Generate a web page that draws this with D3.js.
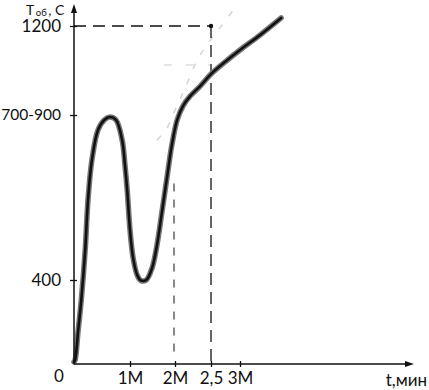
<!DOCTYPE html>
<html>
<head>
<meta charset="utf-8">
<script src="https://cdn.jsdelivr.net/npm/d3@7"></script>
<style>
  body { margin: 0; background: #fff; }
  text { font-family: Lato, "Open Sans", sans-serif; fill: #111; }
</style>
</head>
<body>
<div id="chart-area"></div>
<script>
// temperature curve, t in minutes, T in degrees
const timeVals = [0, 0.02, 0.07, 0.13, 0.2, 0.25, 0.32, 0.43, 0.54, 0.64, 0.75, 0.86, 0.91, 0.95, 1.0,
  1.07, 1.16, 1.24, 1.36, 1.49, 1.6, 1.71, 1.82, 1.93, 2.03, 2.11, 2.21, 2.35, 2.5, 2.74, 3.0, 3.35, 3.71];
const tempVals = [10, 19, 148, 305, 473, 594, 691, 764, 788, 795, 788, 739, 679, 618, 521,
  453, 412, 398, 400, 429, 485, 565, 647, 727, 788, 840, 885, 930, 984, 1038, 1092, 1160, 1236];

// faint pencil guide curve
const guideTime = [1.6, 1.82, 2.0, 2.14, 2.31, 2.49, 2.69, 2.91];
const guideTemp = [739, 768, 822, 921, 1047, 1137, 1204, 1281];

const xTicks = [1, 2, 2.5, 3];
const xTickLabels = ["1M", "2M", "2,5", "3M"];
const yTicks = [400, 800, 1200];
const yTickLabels = ["400", "700-900", "1200"];

const markTime = 2.5;
const markTemp = 1200;

const chartWidth = 429;
const chartHeight = 390;
const originX = 74;
const originY = 364;

const svg = d3.select("#chart-area").append("svg")
  .attr("width", chartWidth)
  .attr("height", chartHeight);

// hand drawn axes are not evenly spaced, so piecewise scales
const x = d3.scaleLinear()
  .domain([0, 1, 2, 2.5, 3])
  .range([originX, 130, 175, 211, 240]);

const y = d3.scaleLinear()
  .domain([0, 400, 800, 1200])
  .range([originY, 280, 115, 26]);

// faint guides
const guideLine = d3.line()
  .x((d, i) => x(guideTime[i]))
  .y(d => y(d))
  .curve(d3.curveCatmullRom.alpha(0.5));

svg.append("path")
  .datum(guideTemp)
  .attr("d", guideLine)
  .attr("fill", "none")
  .attr("stroke", "#d4d4d4")
  .attr("stroke-width", 1.5)
  .attr("stroke-dasharray", "6,10");

svg.append("line")
  .attr("x1", x(1.75)).attr("x2", x(2.48))
  .attr("y1", y(1025)).attr("y2", y(1025))
  .attr("stroke", "#ddd")
  .attr("stroke-width", 1.5)
  .attr("stroke-dasharray", "8,14");

svg.append("line")
  .attr("x1", x(2) - 1).attr("x2", x(2) - 1)
  .attr("y1", y(60)).attr("y2", y(650))
  .attr("stroke", "#888")
  .attr("stroke-width", 2)
  .attr("stroke-dasharray", "8,8");

// dashed marker for 2,5 / 1200
svg.append("line")
  .attr("x1", originX).attr("x2", x(markTime))
  .attr("y1", y(markTemp)).attr("y2", y(markTemp))
  .attr("stroke", "#111")
  .attr("stroke-width", 1.3)
  .attr("stroke-dasharray", "12,7");

svg.append("line")
  .attr("x1", x(markTime)).attr("x2", x(markTime))
  .attr("y1", y(markTemp)).attr("y2", originY)
  .attr("stroke", "#111")
  .attr("stroke-width", 1.3)
  .attr("stroke-dasharray", "12,7");

svg.append("circle")
  .attr("cx", x(markTime))
  .attr("cy", y(markTemp))
  .attr("r", 2.2)
  .attr("fill", "#111");

// main curve, pencil look: grey halo + dark core
const line = d3.line()
  .x((d, i) => x(timeVals[i]))
  .y(d => y(d))
  .curve(d3.curveCatmullRom.alpha(0.5));

svg.append("path")
  .datum(tempVals)
  .attr("d", line)
  .attr("fill", "none")
  .attr("stroke", "#777")
  .attr("stroke-width", 5.5)
  .attr("stroke-linecap", "round");

svg.append("path")
  .datum(tempVals)
  .attr("d", line)
  .attr("fill", "none")
  .attr("stroke", "#111")
  .attr("stroke-width", 2.6)
  .attr("stroke-linecap", "round");

// axis lines with arrows
svg.append("line")
  .attr("x1", originX).attr("x2", originX)
  .attr("y1", originY).attr("y2", 7)
  .attr("stroke", "#111").attr("stroke-width", 1.5);
svg.append("path")
  .attr("d", `M${originX},4 L${originX - 3},13 L${originX + 3},13 Z`)
  .attr("fill", "#111");

svg.append("line")
  .attr("x1", originX).attr("x2", 410)
  .attr("y1", originY).attr("y2", originY)
  .attr("stroke", "#111").attr("stroke-width", 1.5);
svg.append("path")
  .attr("d", `M414,${originY} L405,${originY - 3} L405,${originY + 3} Z`)
  .attr("fill", "#111");

// y axis ticks and labels
const yAxisCall = d3.axisLeft(y)
  .tickValues(yTicks)
  .tickFormat((d, i) => yTickLabels[i])
  .tickSize(4)
  .tickPadding(9);

const yAxis = svg.append("g")
  .attr("transform", `translate(${originX}, 0)`)
  .call(yAxisCall);
yAxis.select(".domain").remove();
yAxis.selectAll("line").attr("x1", 3).attr("stroke", "#111").attr("stroke-width", 1.3);
yAxis.selectAll("text")
  .attr("font-family", "Lato, 'Open Sans', sans-serif")
  .attr("font-size", d => d === 800 ? "15.5px" : "17px")
  .attr("fill", "#111");

// x axis ticks and labels
const xAxisCall = d3.axisBottom(x)
  .tickValues(xTicks)
  .tickFormat((d, i) => xTickLabels[i])
  .tickSize(3)
  .tickPadding(5);

const xAxis = svg.append("g")
  .attr("transform", `translate(0, ${originY})`)
  .call(xAxisCall);
xAxis.select(".domain").remove();
xAxis.selectAll("line").attr("y1", -3).attr("stroke", "#111").attr("stroke-width", 1.3);
xAxis.selectAll("text")
  .attr("font-family", "Lato, 'Open Sans', sans-serif")
  .attr("font-size", "17px")
  .attr("fill", "#111");

// origin and axis titles
svg.append("text")
  .attr("x", 59).attr("y", 382)
  .attr("text-anchor", "middle")
  .attr("font-size", "17px")
  .text("0");

svg.append("text")
  .attr("x", 427).attr("y", 386)
  .attr("text-anchor", "end")
  .attr("font-size", "17px")
  .text("t,мин");

// y title: T with subscript, built from separate pieces with small gaps
const tMain = svg.append("text")
  .attr("x", 26).attr("y", 15)
  .attr("font-size", "14px")
  .text("Т");
const tSubX = 26 + tMain.node().getComputedTextLength() + 1.5;
const tSub = svg.append("text")
  .attr("x", tSubX).attr("y", 16)
  .attr("font-size", "9.5px")
  .text("об");
svg.append("text")
  .attr("x", tSubX + tSub.node().getComputedTextLength() + 1.5)
  .attr("y", 15)
  .attr("font-size", "14px")
  .text(", С");
</script>
</body>
</html>
